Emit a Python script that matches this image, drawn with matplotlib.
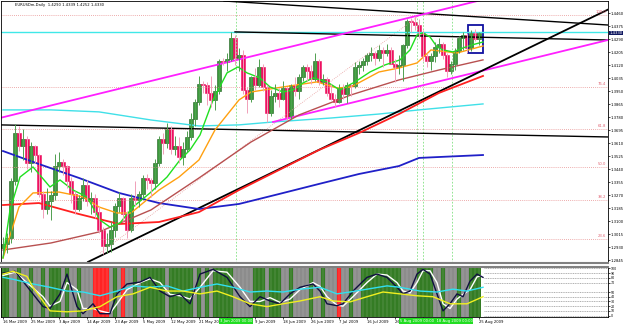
import matplotlib
matplotlib.use("Agg")
import matplotlib.pyplot as plt
import matplotlib.transforms as mtransforms
from matplotlib.patches import Rectangle

W, H = 625, 327

# daily candles, 16 Mar 2009 .. late Aug 2009
opens = [1.2925, 1.2950, 1.2990, 1.3360, 1.3680, 1.3590, 1.3640, 1.3480, 1.3590, 1.3530,
         1.3280, 1.3180, 1.3230, 1.3270, 1.3460, 1.3490, 1.3460, 1.3360, 1.3280, 1.3180,
         1.3250, 1.3340, 1.3230, 1.3250, 1.3160, 1.3040, 1.2940, 1.2950, 1.3040, 1.3200,
         1.3250, 1.3150, 1.3040, 1.3250, 1.3240, 1.3280, 1.3380, 1.3370, 1.3350, 1.3480,
         1.3640, 1.3610, 1.3700, 1.3570, 1.3590, 1.3520, 1.3570, 1.3650, 1.3770, 1.3880,
         1.4000, 1.3990, 1.3940, 1.3890, 1.3950, 1.4150, 1.4140, 1.4160, 1.4300, 1.4170,
         1.4190, 1.3960, 1.3900, 1.4040, 1.3990, 1.4110, 1.3980, 1.3810, 1.3920, 1.3940,
         1.3900, 1.3970, 1.3780, 1.3990, 1.3950, 1.4040, 1.4110, 1.4080, 1.4030, 1.4150,
         1.4010, 1.4030, 1.3940, 1.3900, 1.3880, 1.3970, 1.3930, 1.3990, 1.3985, 1.4110,
         1.4120, 1.4150, 1.4190, 1.4200, 1.4170, 1.4220, 1.4200, 1.4220, 1.4130, 1.4110,
         1.4120, 1.4250, 1.4410, 1.4400, 1.4380, 1.4330, 1.4180, 1.4150, 1.4180, 1.4240,
         1.4260, 1.4190, 1.4080, 1.4130, 1.4210, 1.4300, 1.4320, 1.4230, 1.4330, 1.4290]
highs = [1.3000, 1.3020, 1.3380, 1.3738, 1.3720, 1.3700, 1.3660, 1.3620, 1.3600, 1.3540,
         1.3300, 1.3320, 1.3300, 1.3540, 1.3550, 1.3510, 1.3470, 1.3390, 1.3300, 1.3270,
         1.3380, 1.3370, 1.3290, 1.3280, 1.3200, 1.3060, 1.3020, 1.3100, 1.3220, 1.3290,
         1.3260, 1.3170, 1.3280, 1.3360, 1.3300, 1.3400, 1.3410, 1.3380, 1.3510, 1.3660,
         1.3680, 1.3740, 1.3720, 1.3660, 1.3650, 1.3620, 1.3690, 1.3810, 1.3900, 1.4050,
         1.4020, 1.4010, 1.4050, 1.3990, 1.4160, 1.4170, 1.4200, 1.4338, 1.4320, 1.4230,
         1.4220, 1.3980, 1.4050, 1.4100, 1.4160, 1.4130, 1.3990, 1.3960, 1.4000, 1.3970,
         1.4020, 1.3980, 1.4000, 1.4040, 1.4060, 1.4120, 1.4130, 1.4120, 1.4200, 1.4160,
         1.4060, 1.4040, 1.4000, 1.3930, 1.4000, 1.4000, 1.4010, 1.4000, 1.4140, 1.4150,
         1.4170, 1.4200, 1.4240, 1.4210, 1.4250, 1.4240, 1.4260, 1.4240, 1.4160, 1.4190,
         1.4260, 1.4420, 1.4430, 1.4445, 1.4420, 1.4350, 1.4200, 1.4200, 1.4270, 1.4300,
         1.4270, 1.4200, 1.4150, 1.4230, 1.4310, 1.4340, 1.4330, 1.4350, 1.4360, 1.4339]
lows = [1.2880, 1.2890, 1.2960, 1.3340, 1.3560, 1.3500, 1.3440, 1.3420, 1.3480, 1.3260,
        1.3120, 1.3150, 1.3110, 1.3240, 1.3420, 1.3400, 1.3320, 1.3220, 1.3150, 1.3170,
        1.3230, 1.3200, 1.3150, 1.3120, 1.3020, 1.2886, 1.2890, 1.2900, 1.3000, 1.3160,
        1.3100, 1.2990, 1.3030, 1.3200, 1.3190, 1.3250, 1.3310, 1.3260, 1.3310, 1.3460,
        1.3540, 1.3580, 1.3540, 1.3530, 1.3480, 1.3470, 1.3550, 1.3630, 1.3720, 1.3860,
        1.3940, 1.3860, 1.3850, 1.3830, 1.3930, 1.4120, 1.4080, 1.4150, 1.4120, 1.4080,
        1.3930, 1.3810, 1.3880, 1.3960, 1.3980, 1.3950, 1.3750, 1.3790, 1.3880, 1.3850,
        1.3890, 1.3760, 1.3770, 1.3920, 1.3900, 1.4020, 1.4020, 1.4000, 1.4020, 1.3990,
        1.3990, 1.3920, 1.3890, 1.3850, 1.3870, 1.3900, 1.3870, 1.3920, 1.3970, 1.4060,
        1.4080, 1.4120, 1.4150, 1.4120, 1.4150, 1.4110, 1.4180, 1.4130, 1.4010, 1.4060,
        1.4020, 1.4230, 1.4340, 1.4350, 1.4300, 1.4150, 1.4110, 1.4090, 1.4140, 1.4200,
        1.4160, 1.4045, 1.4060, 1.4090, 1.4200, 1.4220, 1.4200, 1.4210, 1.4280, 1.4252]
closes = [1.2950, 1.2990, 1.3360, 1.3680, 1.3590, 1.3640, 1.3480, 1.3590, 1.3530, 1.3280,
          1.3180, 1.3230, 1.3270, 1.3460, 1.3490, 1.3460, 1.3360, 1.3280, 1.3180, 1.3250,
          1.3340, 1.3230, 1.3250, 1.3160, 1.3040, 1.2940, 1.2950, 1.3040, 1.3200, 1.3250,
          1.3150, 1.3040, 1.3250, 1.3240, 1.3280, 1.3380, 1.3370, 1.3350, 1.3480, 1.3640,
          1.3610, 1.3700, 1.3570, 1.3590, 1.3520, 1.3570, 1.3650, 1.3770, 1.3880, 1.4000,
          1.3990, 1.3940, 1.3890, 1.3950, 1.4150, 1.4140, 1.4160, 1.4300, 1.4170, 1.4190,
          1.3960, 1.3900, 1.4040, 1.3990, 1.4110, 1.3980, 1.3810, 1.3920, 1.3940, 1.3900,
          1.3970, 1.3780, 1.3990, 1.3950, 1.4040, 1.4110, 1.4080, 1.4030, 1.4150, 1.4010,
          1.4030, 1.3940, 1.3900, 1.3880, 1.3970, 1.3930, 1.3990, 1.3985, 1.4110, 1.4120,
          1.4150, 1.4190, 1.4200, 1.4170, 1.4220, 1.4200, 1.4220, 1.4130, 1.4110, 1.4120,
          1.4250, 1.4410, 1.4400, 1.4380, 1.4330, 1.4180, 1.4150, 1.4180, 1.4240, 1.4260,
          1.4190, 1.4080, 1.4130, 1.4210, 1.4300, 1.4320, 1.4230, 1.4330, 1.4290, 1.4330]

# moving averages (bar index, price)
green_i = [0, 1.75, 4.25, 7.5, 11.75, 14.25, 17.5, 21, 24.25, 26.75, 29.25, 32.5, 36.75, 41,
           44.25, 46.75, 49.25, 52.5, 56, 58.75, 61, 64.25, 66.75, 70, 72.5, 75, 77.5, 81,
           84.25, 88, 91.75, 95.5, 99.25, 101.75, 103.5, 105, 106.75, 108.5, 110, 112.5, 115,
           117.25, 120]
green_p = [1.2860, 1.3174, 1.3389, 1.3455, 1.3324, 1.3370, 1.3304, 1.3259, 1.3108, 1.3062,
           1.3089, 1.3193, 1.3285, 1.3389, 1.3501, 1.3566, 1.3664, 1.3893, 1.4070, 1.4109,
           1.4070, 1.4037, 1.3978, 1.3945, 1.3958, 1.4004, 1.4037, 1.4011, 1.3958, 1.4011,
           1.4076, 1.4122, 1.4155, 1.4220, 1.4318, 1.4331, 1.4305, 1.4240, 1.4220, 1.4207,
           1.4233, 1.4253, 1.4272]
orange_i = [0, 4, 7.5, 14, 20, 24, 28.5, 32, 35, 39, 44, 49, 53, 59, 62, 70, 78.5, 83.5, 87,
            94, 99, 103.5, 107, 113.5, 120]
orange_p = [1.2860, 1.3193, 1.3285, 1.3291, 1.3259, 1.3193, 1.3154, 1.3154, 1.3219, 1.3304,
            1.3389, 1.3501, 1.3697, 1.3893, 1.3945, 1.3978, 1.4011, 1.3971, 1.3978, 1.4076,
            1.4102, 1.4135, 1.4220, 1.4200, 1.4246]
brown_i = [0, 12, 24, 37, 49, 62, 74, 87, 99, 109, 120]
brown_p = [1.2912, 1.2958, 1.3030, 1.3174, 1.3383, 1.3618, 1.3795, 1.3926, 1.4024, 1.4089,
           1.4155]
red_i = [0, 9, 19, 29, 39, 49, 59, 69, 79, 89, 99, 109, 120]
red_p = [1.3206, 1.3219, 1.3147, 1.3082, 1.3095, 1.3160, 1.3304, 1.3435, 1.3566, 1.3677,
         1.3801, 1.3939, 1.4050]
blue_i = [0, 9, 19, 29, 39, 49, 59, 69, 79, 89, 99, 104, 109, 120]
blue_p = [1.3559, 1.3474, 1.3383, 1.3285, 1.3219, 1.3180, 1.3213, 1.3278, 1.3344, 1.3409,
          1.3461, 1.3514, 1.3520, 1.3533]
cyan_i = [0, 12, 24, 37, 49, 59, 67.5, 82, 94, 104, 120]
cyan_p = [1.3828, 1.3828, 1.3815, 1.3762, 1.3723, 1.3730, 1.3749, 1.3775, 1.3801, 1.3828,
          1.3867]

# oscillator panel
stoch_i = [0, 3, 10, 11.75, 14.25, 16, 18.5, 20, 22.5, 24.25, 26.75, 28.5, 31, 34.25, 36.75,
           39.25, 41.75, 44.25, 46.75, 49.25, 52.5, 56, 59.25, 61.75, 64.25, 66.75, 69.25,
           71.75, 74.25, 77.5, 79.25, 81, 83.5, 85, 87.5, 91, 93.5, 96, 98.5, 100, 101.75,
           103.5, 105, 106.75, 108.5, 110, 111.75, 113.5, 115, 116.75, 118.5, 120]
stoch_main = [90, 94, 19, 15, 46, 88, 19, 4, 25, 4, 4, 46, 67, 71, 81, 52, 40, 46, 25, 88,
              98, 81, 40, 19, 40, 31, 25, 46, 60, 67, 52, 25, 21, 25, 52, 81, 88, 81, 60, 46,
              52, 88, 98, 88, 46, 10, 25, 46, 40, 73, 88, 81]
stoch_sig = [85, 92, 40, 20, 30, 70, 55, 15, 15, 10, 5, 25, 55, 70, 78, 70, 45, 42, 35, 60,
             95, 92, 60, 30, 30, 38, 28, 35, 55, 70, 62, 40, 22, 20, 40, 70, 88, 86, 70, 52,
             48, 70, 95, 95, 70, 25, 15, 35, 45, 55, 82, 86]
rsi_i = [0, 2.5, 7.5, 11.75, 16, 20, 24.25, 28.5, 32.5, 36.75, 41, 45, 49.25, 53.5, 57.5,
         61.75, 66, 70, 74.25, 79.25, 83.5, 86.75, 91, 96, 99.25, 104.25, 108.5, 112.5, 116, 120]
rsi_v = [81, 77, 67, 60, 52, 50, 42, 52, 63, 60, 63, 52, 60, 67, 60, 50, 52, 50, 56, 60,
         46, 50, 56, 63, 60, 52, 50, 56, 52, 60]
yel_i = [0, 2.5, 6, 7.5, 11.75, 16, 20, 24.25, 28.5, 32.5, 36.75, 41, 45, 49.25, 53.5, 57.5,
         61.75, 66, 70, 74.25, 79.25, 82.5, 86.75, 91, 95, 99.25, 103.5, 107.5, 111.75, 116, 120]
yel_v = [88, 94, 83, 60, 10, 8, 10, 19, 40, 46, 60, 52, 52, 46, 52, 40, 25, 19, 25, 31,
         40, 31, 29, 40, 50, 46, 42, 40, 25, 25, 40]
# background state per bar: g = green, a = grey, r = red
state = ("gg" + "aagaagaaga" + "ggg" + "agaagaaa" + "rrrr" + "aga" + "r" + "aaga"
         + "ggggggaggggggag" + "aga" + "ggggg" + "aaaaa" + "gggaggg" + "aagaaaagaagaaa"
         + "r" + "aagaa" + "gggggggggg" + "aaaa" + "gggg" + "aagaaagaa" + "ggg")

tick_i = list(range(0, 120, 7))
tick_txt = ["16 Mar 2009", "25 Mar 2009", "3 Apr 2009", "14 Apr 2009", "23 Apr 2009",
            "5 May 2009", "12 May 2009", "21 May 2009", "", "9 Jun 2009",
            "18 Jun 2009", "26 Jun 2009", "7 Jul 2009", "16 Jul 2009", "26 Jul 2009",
            "", "", "25 Aug 2009"]
price_ticks = [1.4460, 1.4375, 1.4290, 1.4205, 1.4120, 1.4035, 1.3950, 1.3865, 1.3780,
               1.3695, 1.3610, 1.3525, 1.3440, 1.3355, 1.3270, 1.3185, 1.3100, 1.3015,
               1.2930, 1.2845]
fib_p = [1.4449, 1.3978, 1.3703, 1.3455, 1.3239, 1.2984]
fib_txt = ["100.0", "76.4", "61.8", "50.0", "38.2", "23.6"]
vlines_i = [58.25, 103.5, 105, 112.25]
# crosshair date boxes on the time axis (bar position, text)
box_i = [58.25, 108.25]
box_txt = ["3 Jun 2009 00:00", "5 Aug 2009 00:00  18 Aug 2009 00:00"]
osc_levels = [100, 90, 80, 70, 50, 40, 30, 20, 10, 0]

FS = 2.7
XR = 151.25


def px_axes(x0, y0, x1, y1):
    return fig.add_axes([x0 / W, 1 - y1 / H, (x1 - x0) / W, (y1 - y0) / H])


fig = plt.figure(figsize=(W / 100, H / 100), dpi=100)
fig.patch.set_facecolor("white")
ax = px_axes(1, 1, 608, 263)
ax.set_xlim(-0.5, XR)
ax.set_ylim(1.2827, 1.4540)

for p, t in zip(fib_p, fib_txt):
    ax.axhline(p, color="#e89090", lw=0.6, ls=(0, (1, 1.5)))
    ax.text(150.8, p + 0.0005, t, fontsize=FS, color="#e06070", ha="right", va="bottom")
for v in vlines_i:
    ax.axvline(v, color="#80e080", lw=0.6, ls=(0, (2, 2)))
ax.plot([24.25, 104.25], [1.2892, 1.4449], color="#e8a0a0", lw=0.6, ls=(0, (1, 1.5)))

ax.axhline(1.4338, color="#40e8e8", lw=1.0)
ax.plot(cyan_i, cyan_p, color="#40e0e8", lw=1.0)
ax.plot([-0.8, XR], [1.3730, 1.3651], color="black", lw=1.0)
ax.plot([58, XR], [1.4338, 1.4285], color="black", lw=1.0)
ax.plot([55.25, XR], [1.4540, 1.4383], color="black", lw=1.0)
ax.plot([-0.8, 125], [1.3775, 1.4581], color="#ff20ff", lw=1.3)
ax.plot([67.5, XR], [1.3749, 1.4285], color="#ff20ff", lw=1.3)
ax.plot([21.25, XR], [1.2834, 1.4484], color="black", lw=1.3)

ax.plot(blue_i, blue_p, color="#2020c8", lw=1.3)
ax.plot(red_i, red_p, color="#ff2020", lw=1.3)
ax.plot(brown_i, brown_p, color="#b85050", lw=1.0)
ax.plot(orange_i, orange_p, color="#ffa010", lw=1.0)
ax.plot(green_i, green_p, color="#20e020", lw=1.0)

for i, (o, h, l, c) in enumerate(zip(opens, highs, lows, closes)):
    up = c >= o
    ax.vlines(i, l, h, color="#50a050" if up else "#f0a0b8", lw=0.7)
    ax.add_patch(Rectangle((i - 0.38, min(o, c)), 0.76, max(abs(c - o), 0.0003),
                           fc="#3c9c3c" if up else "#ee1060",
                           ec="#1a5a1a" if up else "#ee1060", lw=0.4))

ax.add_patch(Rectangle((116.25, 1.4200), 3.75, 0.0184, fill=False, ec="#1010a0", lw=1.3))

ax.yaxis.tick_right()
ax.set_yticks(price_ticks)
ax.set_yticklabels([f"{p:.4f}" for p in price_ticks], fontsize=FS)
ax.tick_params(axis="y", length=1.5, width=0.5, pad=0.5)
ax.set_xticks([])
for s in ax.spines.values():
    s.set_linewidth(0.6)
ax.spines["bottom"].set_linewidth(1.5)
ax.spines["bottom"].set_color("#808080")
ax.text(3, 1.4505, "EURUSDm,Daily  1.4290 1.4339 1.4252 1.4330", fontsize=FS)
ax.text(1.002, 1.4330, "1.4330", transform=ax.get_yaxis_transform(), fontsize=FS,
        color="white", va="center", bbox=dict(boxstyle="square,pad=0.1", fc="#101860", ec="none"))

ind = px_axes(1, 267, 608, 317)
ind.set_xlim(-0.5, XR)
ind.set_ylim(-3, 103)
colors = {"g": "#347c24", "a": "#8c8c8c", "r": "#ff2424"}
for i, s in enumerate(state):
    ind.axvspan(i - 0.5, i + 0.5, color=colors[s], lw=0)
    ind.axvline(i, color="white", lw=0.35, alpha=0.6, ls=(0, (1, 1)))
for lv in osc_levels:
    ind.axhline(lv, xmin=0.795, color="#909090", lw=0.5, ls=(0, (1.5, 1)))
ind.plot(stoch_i, stoch_sig, color="white", lw=1.0)
ind.plot(stoch_i, stoch_main, color="#101040", lw=1.0)
ind.plot(rsi_i, rsi_v, color="#30e0f0", lw=1.0)
ind.plot(yel_i, yel_v, color="#f0f020", lw=1.0)
ind.yaxis.tick_right()
ind.set_yticks(osc_levels)
ind.set_yticklabels([str(v) for v in osc_levels], fontsize=2.3)
ind.tick_params(axis="y", length=1.5, width=0.5, pad=0.5)
ind.set_xticks(tick_i)
ind.set_xticklabels(tick_txt, fontsize=FS, ha="left")
ind.tick_params(axis="x", length=1.5, width=0.5, pad=1)
for s in ind.spines.values():
    s.set_linewidth(0.6)
ind.spines["top"].set_linewidth(1.5)
ind.spines["top"].set_color("#808080")

trans = mtransforms.blended_transform_factory(ind.transData, ind.transAxes)
for v, t in zip(box_i, box_txt):
    ind.text(v, -0.04, t, transform=trans, fontsize=FS, color="white", ha="center", va="top",
             zorder=5, bbox=dict(boxstyle="square,pad=0.2", fc="#22dd22", ec="none"))

fig.savefig("out.png", dpi=100, facecolor="white")
